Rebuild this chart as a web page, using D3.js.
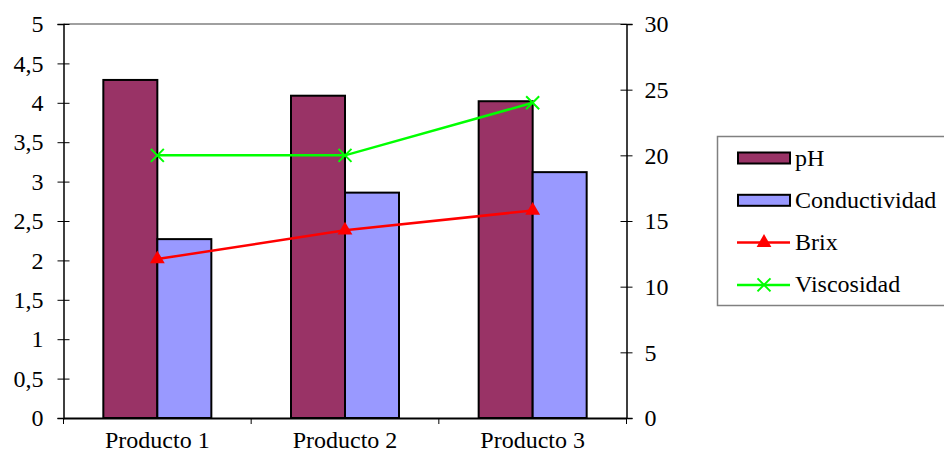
<!DOCTYPE html>
<html><head><meta charset="utf-8">
<script src="https://cdn.jsdelivr.net/npm/d3@7"></script>
<style>body{margin:0;background:#fff}svg{display:block}</style>
</head><body><svg id="c" width="944" height="456"></svg>
<script>
const categories = ["Producto 1","Producto 2","Producto 3"];
const pH = [4.29, 4.09, 4.02];
const conductividad = [2.27, 2.86, 3.12];
const brix = [12.1, 14.3, 15.8];
const viscosidad = [20, 20, 24];
const leftTicks = [0,0.5,1,1.5,2,2.5,3,3.5,4,4.5,5];
const rightTicks = [0,5,10,15,20,25,30];

const FONT = "'Liberation Serif','Times New Roman',Times,serif";
const svg = d3.select("#c");
const L=63.5, R=626.5, T=24, B=418;
const x = d3.scaleBand().domain(categories).range([L,R]);
const yL = d3.scaleLinear().domain([0,5]).range([B,T]);
const yR = d3.scaleLinear().domain([0,30]).range([B,T]);
const fmt = d => String(d).replace(".", ",");

svg.append("line").attr("x1",L).attr("x2",R).attr("y1",T).attr("y2",T).attr("stroke","#808080").attr("stroke-width",1.5);

const bw = 54;
const cx = c => x(c)+x.bandwidth()/2;
svg.append("g").selectAll("rect").data(categories).join("rect")
  .attr("x",c=>cx(c)-bw).attr("y",(c,i)=>yL(pH[i])).attr("width",bw).attr("height",(c,i)=>B-yL(pH[i]))
  .attr("fill","#993366").attr("stroke","#000").attr("stroke-width",2);
svg.append("g").selectAll("rect").data(categories).join("rect")
  .attr("x",c=>cx(c)).attr("y",(c,i)=>yL(conductividad[i])).attr("width",bw).attr("height",(c,i)=>B-yL(conductividad[i]))
  .attr("fill","#9999ff").attr("stroke","#000").attr("stroke-width",2);

const gl = svg.append("g").attr("transform",`translate(${L},0)`)
  .call(d3.axisLeft(yL).tickValues(leftTicks).tickFormat(fmt).tickSize(6).tickPadding(14));
gl.selectAll(".tick line").attr("x2",6).attr("x1",-6);
const gr = svg.append("g").attr("transform",`translate(${R},0)`)
  .call(d3.axisRight(yR).tickValues(rightTicks).tickSize(6).tickPadding(12));
gr.selectAll(".tick line").attr("x1",-6).attr("x2",6);
const gb = svg.append("g").attr("transform",`translate(0,${B})`)
  .call(d3.axisBottom(x).tickSize(0).tickPadding(13));
gb.selectAll(".tick").append("line").attr("x1",x.bandwidth()/2).attr("x2",x.bandwidth()/2).attr("y1",0).attr("y2",6).attr("stroke","#000");
svg.append("line").attr("x1",L).attr("x2",L).attr("y1",B).attr("y2",B+6).attr("stroke","#000");
[gl,gr,gb].forEach(g=>{
  g.attr("font-family",FONT).attr("font-size",24);
  g.select(".domain").attr("stroke","#000").attr("stroke-width",1.5);
  g.selectAll(".tick line").attr("stroke","#000");
  g.selectAll("text").attr("fill","#000");
});
gb.select(".domain").attr("stroke-width",2);

const line = d3.line().x((d,i)=>cx(categories[i])).y(d=>yR(d));
svg.append("path").datum(brix).attr("d",line).attr("fill","none").attr("stroke","#ff0000").attr("stroke-width",2.5);
svg.append("path").datum(viscosidad).attr("d",line).attr("fill","none").attr("stroke","#00ff00").attr("stroke-width",2.5);
const tri = d3.symbol().type(d3.symbolTriangle).size(95);
svg.append("g").selectAll("path").data(brix).join("path")
  .attr("d",tri).attr("transform",(d,i)=>`translate(${cx(categories[i])},${yR(d)})`).attr("fill","#ff0000");
const crossP = s => `M${-s},${-s}L${s},${s}M${-s},${s}L${s},${-s}`;
svg.append("g").selectAll("path").data(viscosidad).join("path")
  .attr("d",crossP(6.5)).attr("transform",(d,i)=>`translate(${cx(categories[i])},${yR(d)})`).attr("stroke","#00ff00").attr("stroke-width",2);

const lg = svg.append("g").attr("font-family",FONT).attr("font-size",24);
lg.append("rect").attr("x",717.5).attr("y",136.5).attr("width",240).attr("height",169).attr("fill","#fff").attr("stroke","#808080").attr("stroke-width",1.5);
const items = [
  {n:"pH",t:"bar",c:"#993366"},
  {n:"Conductividad",t:"bar",c:"#9999ff"},
  {n:"Brix",t:"tri",c:"#ff0000"},
  {n:"Viscosidad",t:"x",c:"#00ff00"}];
items.forEach((it,i)=>{
  const y = 158 + i*42.3;
  if(it.t==="bar"){
    lg.append("rect").attr("x",738).attr("y",y-5.5).attr("width",52).attr("height",11).attr("fill",it.c).attr("stroke","#000").attr("stroke-width",2);
  } else {
    lg.append("line").attr("x1",737).attr("x2",790).attr("y1",y).attr("y2",y).attr("stroke",it.c).attr("stroke-width",2.5);
    if(it.t==="tri") lg.append("path").attr("d",tri).attr("transform",`translate(764,${y})`).attr("fill",it.c);
    else lg.append("path").attr("d",crossP(6.5)).attr("transform",`translate(764,${y})`).attr("stroke",it.c).attr("stroke-width",2);
  }
  lg.append("text").attr("x",795).attr("y",y+7.5).attr("fill","#000").text(it.n);
});
</script></body></html>
